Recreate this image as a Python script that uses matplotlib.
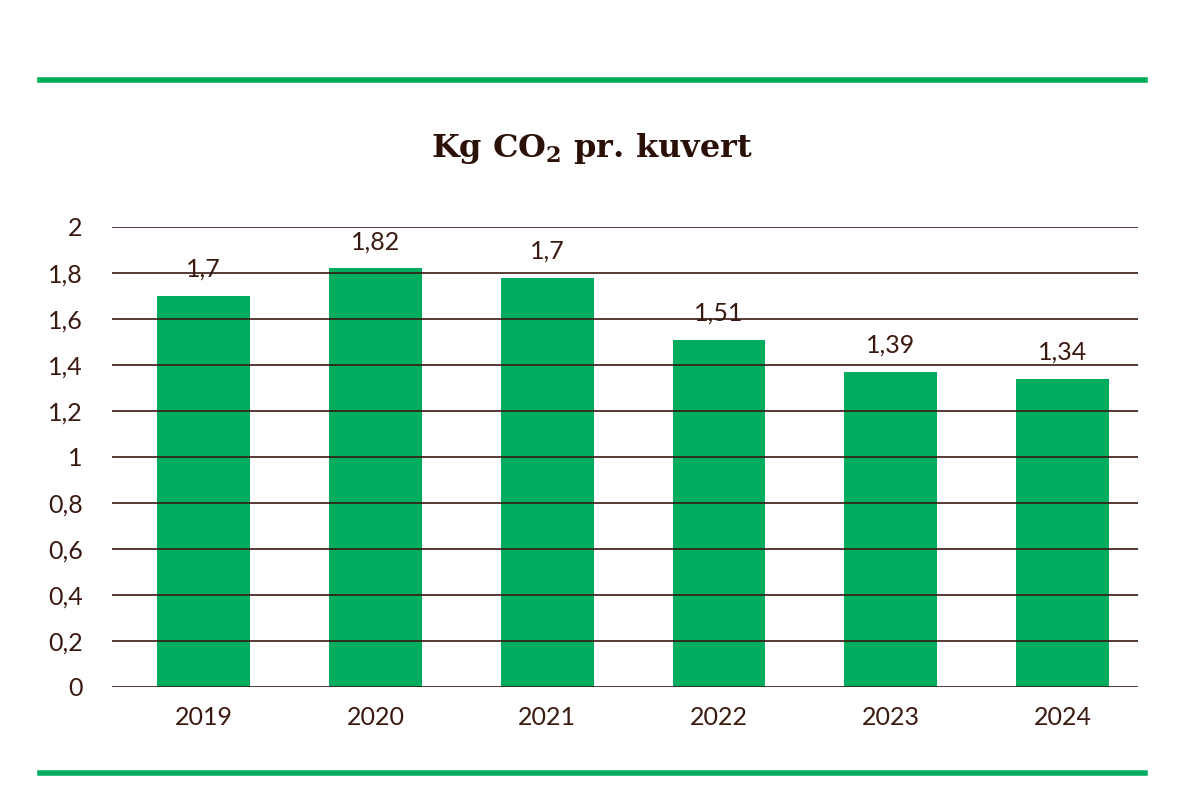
import matplotlib
matplotlib.use("Agg")
import matplotlib.pyplot as plt

years = ["2019", "2020", "2021", "2022", "2023", "2024"]
kg_co2 = [1.70, 1.82, 1.78, 1.51, 1.37, 1.34]  # bar heights as drawn
value_labels = ["1,7", "1,82", "1,7", "1,51", "1,39", "1,34"]
y_ticks = [0, 0.2, 0.4, 0.6, 0.8, 1.0, 1.2, 1.4, 1.6, 1.8, 2.0]
y_tick_labels = ["0", "0,2", "0,4", "0,6", "0,8", "1", "1,2", "1,4", "1,6", "1,8", "2"]

green = "#00ad5f"
brown = "#3a1a10"

plt.rcParams["font.family"] = ["Lato", "DejaVu Sans"]
plt.rcParams["mathtext.fontset"] = "custom"
plt.rcParams["mathtext.rm"] = "DejaVu Serif:bold"
plt.rcParams["mathtext.bf"] = "DejaVu Serif:bold"

fig = plt.figure(figsize=(12, 8), dpi=100)
ax = fig.add_axes([0.0933, 0.14125, 0.855, 0.575])

x = range(len(years))
ax.bar(x, kg_co2, width=0.54, color=green, zorder=1)

# value labels above the bars
for i, (v, lab) in enumerate(zip(kg_co2, value_labels)):
    ax.annotate(lab, (i, v), xytext=(0, 11), textcoords="offset points",
                ha="center", va="bottom", fontsize=18, color=brown)

# horizontal gridlines drawn over the bars
for t in y_ticks:
    ax.axhline(t, color=brown, lw=1.2, zorder=3)

ax.set_xlim(-0.535, 5.44)
ax.set_ylim(0, 2)
ax.set_xticks(list(x))
ax.set_xticklabels(years)
ax.set_yticks(y_ticks)
ax.set_yticklabels(y_tick_labels)
ax.tick_params(axis="x", length=0, pad=14, labelsize=18, labelcolor=brown)
ax.tick_params(axis="y", length=0, pad=21, labelsize=18, labelcolor=brown)
for s in ax.spines.values():
    s.set_visible(False)

# title with subscript
fig.text(0.493, 0.814, r"Kg CO$_\mathbf{2}$ pr. kuvert", ha="center", va="center",
         fontsize=23, fontweight="bold", family="DejaVu Serif", color="#2b1008")

# green rules top and bottom
fig.add_artist(plt.Line2D([40/1200, 1145/1200], [1 - 80/800, 1 - 80/800], color=green, lw=4))
fig.add_artist(plt.Line2D([40/1200, 1145/1200], [1 - 773/800, 1 - 773/800], color=green, lw=4))

fig.savefig("out.png", dpi=100, facecolor="white")
